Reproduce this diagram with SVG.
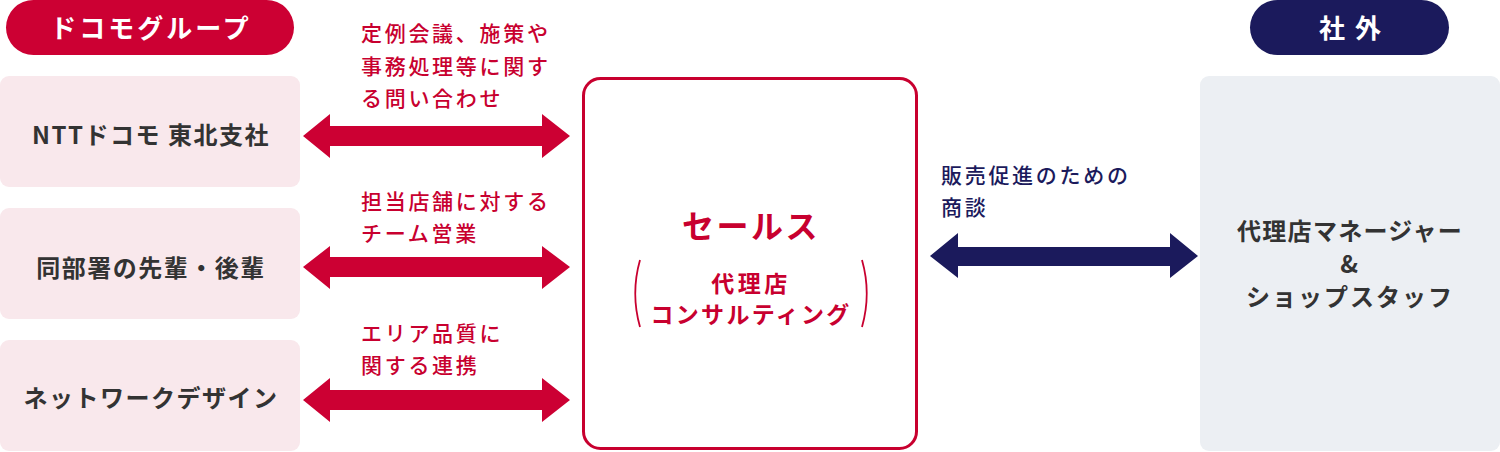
<svg xmlns="http://www.w3.org/2000/svg" width="1500" height="452" viewBox="0 0 1500 452">
<style>
text{font-family:"Noto Sans CJK JP","Noto Sans",sans-serif;}
.pill-t{fill:#fff;font-size:26px;font-weight:700;text-anchor:middle;}
.left-box{fill:#f9e8ec;}
.box-t{fill:#333;font-size:24px;font-weight:700;text-anchor:middle;letter-spacing:1.5px;}
.lbl-r{fill:#c8002f;font-size:21px;font-weight:500;letter-spacing:2.7px;}
.lbl-n{fill:#1b1a5c;font-size:21px;font-weight:500;letter-spacing:2.7px;}
.arr-r{fill:#cc0033;}
.arr-n{fill:#1b1a5c;}
.ctr{fill:#c8002f;font-weight:700;text-anchor:middle;}
</style>
<g id="docomo-group-header">
<rect x="6" y="0" width="288" height="55" rx="27.5" fill="#cc0033"/>
<text class="pill-t" x="151" y="38" style="letter-spacing:3px">ドコモグループ</text>
</g>
<g id="external-header">
<rect x="1250" y="0" width="199" height="55" rx="27.5" fill="#1b1a5c"/>
<text class="pill-t" x="1355" y="38" style="letter-spacing:10px">社外</text>
</g>
<g id="ntt-tohoku">
<rect class="left-box" x="0" y="76" width="300" height="111" rx="9"/>
<text class="box-t" x="151" y="144">NTTドコモ 東北支社</text>
</g>
<g id="senpai-kohai">
<rect class="left-box" x="0" y="208" width="300" height="111" rx="9"/>
<text class="box-t" x="151" y="277">同部署の先輩・後輩</text>
</g>
<g id="network-design">
<rect class="left-box" x="0" y="340" width="300" height="111" rx="9"/>
<text class="box-t" x="151" y="407">ネットワークデザイン</text>
</g>
<g id="sales">
<rect x="583.5" y="78.5" width="333" height="370" rx="17" fill="#fff" stroke="#c8002f" stroke-width="3"/>
<text class="ctr" x="751" y="238" font-size="32" style="letter-spacing:2.5px">セールス</text>
<text class="ctr" x="751" y="292" font-size="23" style="letter-spacing:3.5px">代理店</text>
<text class="ctr" x="751" y="323" font-size="23" style="letter-spacing:2.3px">コンサルティング</text>
<path d="M640 260 Q630.5 293.5 640 327" fill="none" stroke="#c8002f" stroke-width="1.8"/>
<path d="M862 260 Q871.5 293.5 862 327" fill="none" stroke="#c8002f" stroke-width="1.8"/>
</g>
<g id="agency-manager">
<rect x="1200" y="76" width="300" height="375" rx="9" fill="#eceff3"/>
<text class="box-t" x="1350" y="240" style="letter-spacing:1.3px">代理店マネージャー</text>
<text class="box-t" x="1350" y="273">&amp;</text>
<text class="box-t" x="1350" y="306" style="letter-spacing:2px">ショップスタッフ</text>
</g>
<g id="connectors">
<polygon class="arr-r" points="303,136 330,114 330,126 542,126 542,114 570,136 542,158 542,146 330,146 330,158"/>
<polygon class="arr-r" points="303,267 330,246 330,257 542,257 542,246 570,267 542,289 542,277 330,277 330,289"/>
<polygon class="arr-r" points="303,400 330,378 330,390 542,390 542,378 570,400 542,422 542,410 330,410 330,422"/>
<polygon class="arr-n" points="930,256 958,233 958,247 1170,247 1170,233 1198,256 1170,278 1170,266 958,266 958,278"/>
<text class="lbl-r" x="361" y="41">定例会議、施策や</text>
<text class="lbl-r" x="361" y="74">事務処理等に関す</text>
<text class="lbl-r" x="361" y="106">る問い合わせ</text>
<text class="lbl-r" x="361" y="209">担当店舗に対する</text>
<text class="lbl-r" x="361" y="241">チーム営業</text>
<text class="lbl-r" x="361" y="341">エリア品質に</text>
<text class="lbl-r" x="361" y="373">関する連携</text>
<text class="lbl-n" x="941" y="183">販売促進のための</text>
<text class="lbl-n" x="941" y="215">商談</text>
</g>
</svg>
